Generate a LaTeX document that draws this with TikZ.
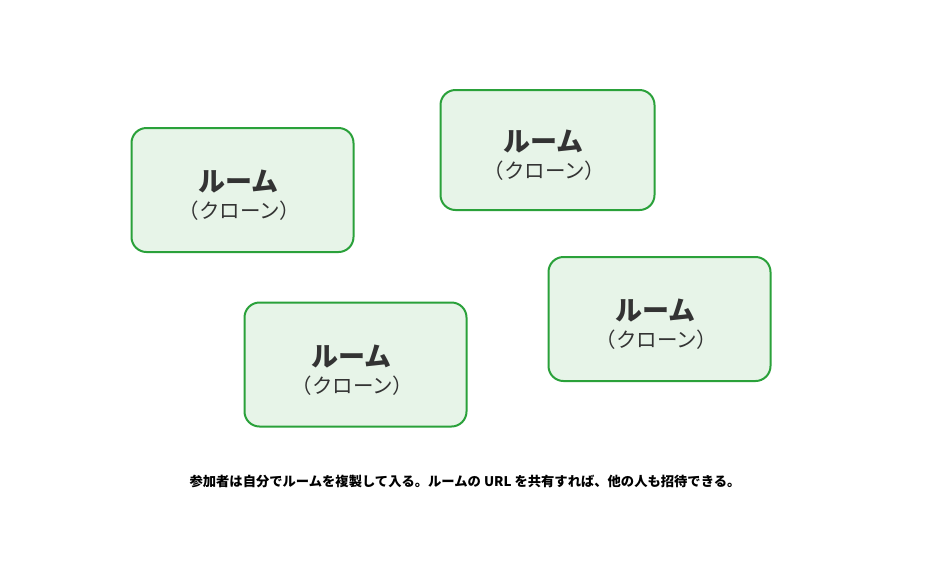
\documentclass[tikz,border=0pt]{standalone}
\usepackage{fontspec}
\setmainfont{Noto Sans CJK JP}
\usetikzlibrary{positioning}
\definecolor{roomgreen}{HTML}{2AA13A}
\definecolor{roomfill}{HTML}{E7F4E8}
\definecolor{roomtext}{HTML}{333333}

\begin{document}
\begin{tikzpicture}[x=1pt,y=-1pt,
    roombox/.style={draw=roomgreen,fill=roomfill,line width=2pt,rounded corners=15pt,
        minimum width=222pt,minimum height=124pt,inner sep=0pt},
    roomtitle/.style={text=roomtext,font=\fontsize{27}{27}\selectfont\bfseries,inner sep=0pt},
    roomsub/.style={text=roomtext,font=\fontsize{20.5}{20.5}\selectfont,inner sep=0pt}]
    \useasboundingbox[fill=white] (0,0) rectangle (928,574);

    % Room boxes
    \node[roombox] (room1) at (242.5,190) {};
    \node[roombox,minimum width=214pt,minimum height=120pt] (room2) at (547.5,150) {};
    \node[roombox] (room3) at (659.5,319) {};
    \node[roombox] (room4) at (355.5,364.5) {};

    % Labels
    \foreach \r in {1,...,4} {
        \node[roomtitle] (title\r) at ([xshift=-4pt,yshift=8pt]room\r.center) {ルーム};
        \node[roomsub] (sub\r) at ([xshift=-3pt,yshift=-21pt]room\r.center) {（クローン）};
    }

    % Caption
    \node[font=\fontsize{13.3}{13.3}\selectfont\bfseries,inner sep=0pt] (caption) at (465,481)
        {参加者は自分でルームを複製して入る。ルームの URL を共有すれば、他の人も招待できる。};
\end{tikzpicture}
\end{document}
